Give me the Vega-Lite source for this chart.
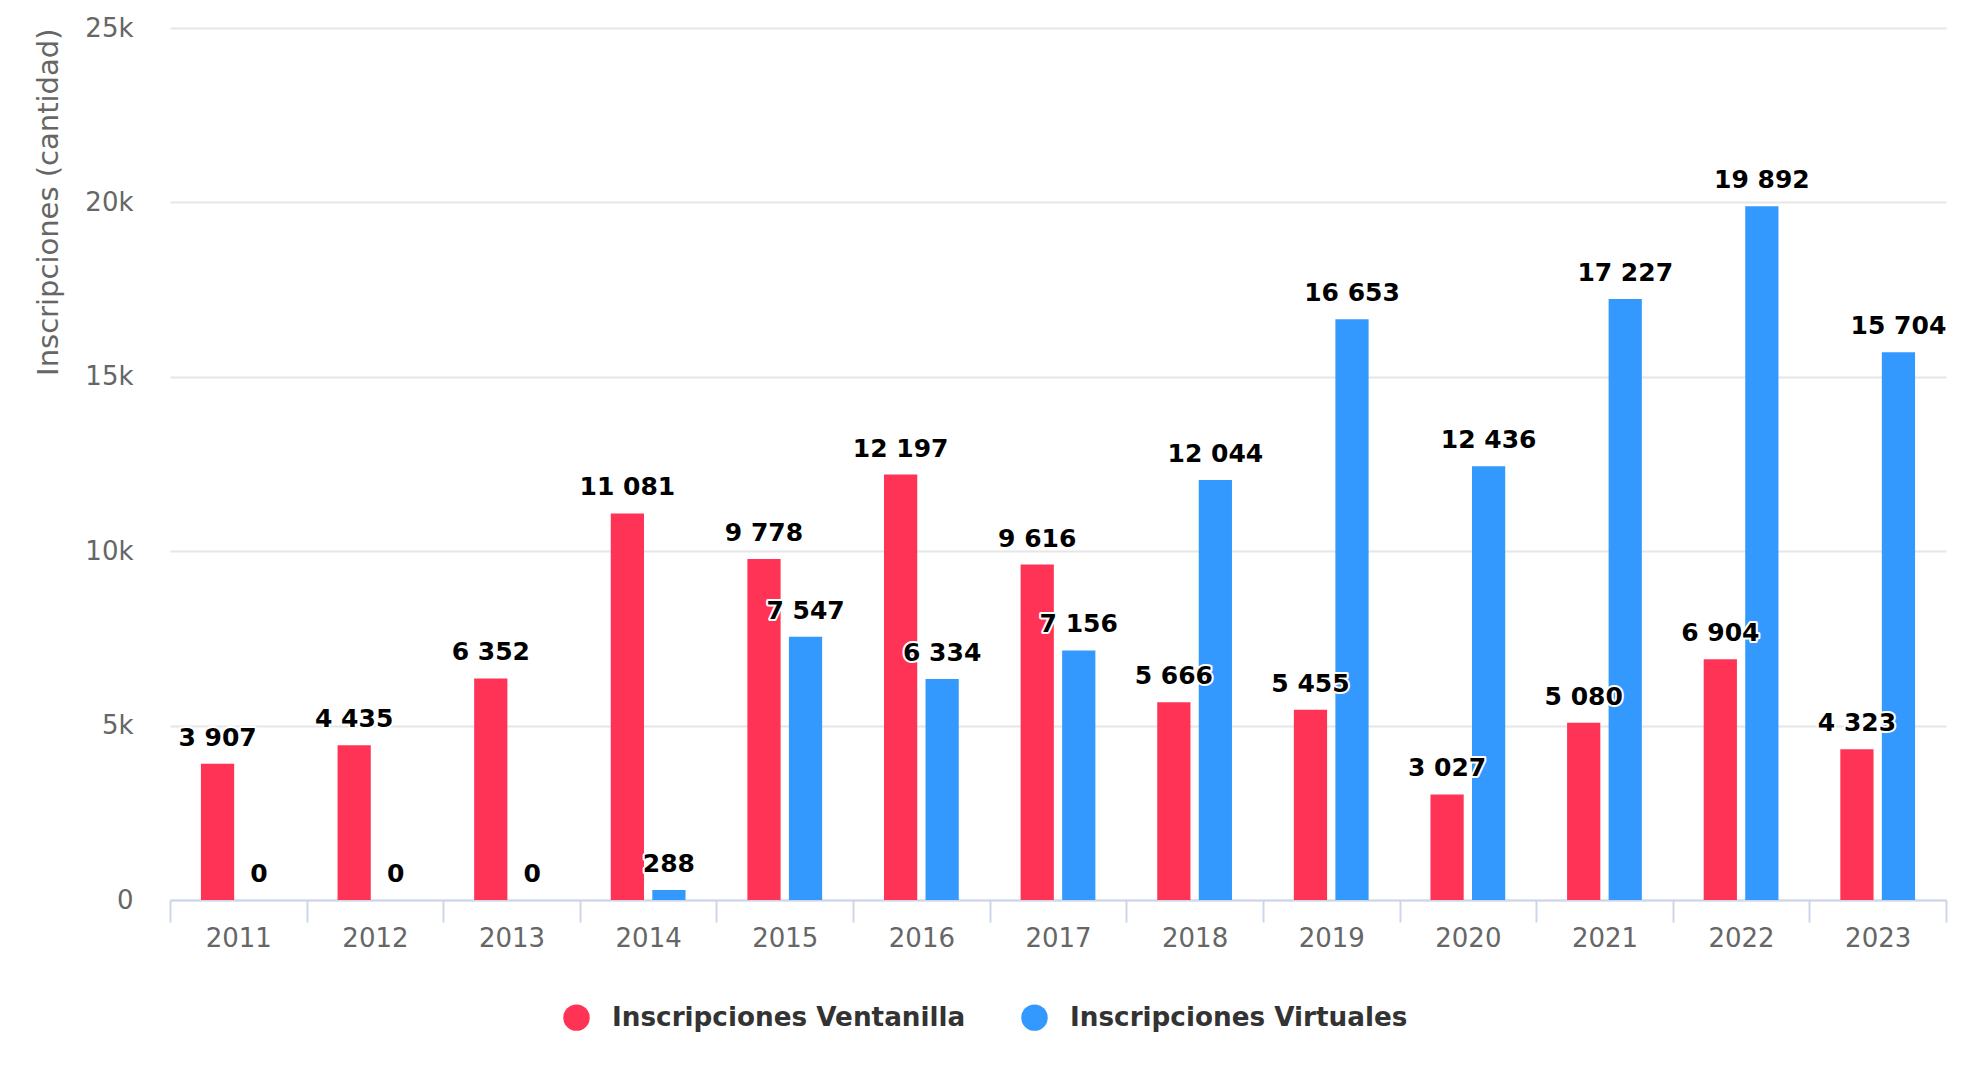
{
  "$schema": "https://vega.github.io/schema/vega-lite/v6.json",
  "width": 1776,
  "height": 872,
  "autosize": {"type": "none"},
  "padding": {"left": 170, "top": 28, "right": 31, "bottom": 186},
  "background": "white",
  "config": {
    "view": {"stroke": null},
    "font": "DejaVu Sans"
  },
  "data": {
    "values": [
      {"year": "2011", "serie": "Inscripciones Ventanilla", "value": 3907},
      {"year": "2012", "serie": "Inscripciones Ventanilla", "value": 4435},
      {"year": "2013", "serie": "Inscripciones Ventanilla", "value": 6352},
      {"year": "2014", "serie": "Inscripciones Ventanilla", "value": 11081},
      {"year": "2015", "serie": "Inscripciones Ventanilla", "value": 9778},
      {"year": "2016", "serie": "Inscripciones Ventanilla", "value": 12197},
      {"year": "2017", "serie": "Inscripciones Ventanilla", "value": 9616},
      {"year": "2018", "serie": "Inscripciones Ventanilla", "value": 5666},
      {"year": "2019", "serie": "Inscripciones Ventanilla", "value": 5455},
      {"year": "2020", "serie": "Inscripciones Ventanilla", "value": 3027},
      {"year": "2021", "serie": "Inscripciones Ventanilla", "value": 5080},
      {"year": "2022", "serie": "Inscripciones Ventanilla", "value": 6904},
      {"year": "2023", "serie": "Inscripciones Ventanilla", "value": 4323},
      {"year": "2011", "serie": "Inscripciones Virtuales", "value": 0},
      {"year": "2012", "serie": "Inscripciones Virtuales", "value": 0},
      {"year": "2013", "serie": "Inscripciones Virtuales", "value": 0},
      {"year": "2014", "serie": "Inscripciones Virtuales", "value": 288},
      {"year": "2015", "serie": "Inscripciones Virtuales", "value": 7547},
      {"year": "2016", "serie": "Inscripciones Virtuales", "value": 6334},
      {"year": "2017", "serie": "Inscripciones Virtuales", "value": 7156},
      {"year": "2018", "serie": "Inscripciones Virtuales", "value": 12044},
      {"year": "2019", "serie": "Inscripciones Virtuales", "value": 16653},
      {"year": "2020", "serie": "Inscripciones Virtuales", "value": 12436},
      {"year": "2021", "serie": "Inscripciones Virtuales", "value": 17227},
      {"year": "2022", "serie": "Inscripciones Virtuales", "value": 19892},
      {"year": "2023", "serie": "Inscripciones Virtuales", "value": 15704}
    ]
  },
  "transform": [
    {"calculate": "replace(format(datum.value, ','), ',', ' ')", "as": "lbl"}
  ],
  "encoding": {
    "x": {
      "field": "year",
      "type": "ordinal",
      "scale": {"paddingInner": 0, "paddingOuter": 0},
      "axis": {
        "title": null,
        "labelAngle": 0,
        "labelFont": "DejaVu Sans",
        "labelFontSize": 26,
        "labelColor": "#666666",
        "labelPadding": 3,
        "domainColor": "#ccd6eb",
        "domainWidth": 2,
        "tickColor": "#ccd6eb",
        "tickWidth": 2,
        "tickSize": 22,
        "tickBand": "extent",
        "grid": false
      }
    },
    "xOffset": {
      "field": "serie",
      "type": "nominal",
      "scale": {"paddingInner": 0.2, "paddingOuter": 0.745}
    },
    "y": {
      "field": "value",
      "type": "quantitative",
      "scale": {"domain": [0, 25000], "nice": false},
      "axis": {
        "title": "Inscripciones (cantidad)",
        "titleFont": "DejaVu Sans",
        "titleFontSize": 29,
        "titleFontWeight": "normal",
        "titleColor": "#666666",
        "titleAnchor": "end",
        "titlePadding": 21,
        "values": [0, 5000, 10000, 15000, 20000, 25000],
        "labelExpr": "datum.value == 0 ? '0' : (datum.value / 1000) + 'k'",
        "labelFont": "DejaVu Sans",
        "labelFontSize": 26,
        "labelColor": "#666666",
        "labelPadding": 37,
        "domain": false,
        "ticks": false,
        "gridColor": "#e6e6e6",
        "gridWidth": 2
      }
    }
  },
  "layer": [
    {
      "mark": {"type": "bar"},
      "encoding": {
        "color": {
          "field": "serie",
          "type": "nominal",
          "scale": {
            "domain": ["Inscripciones Ventanilla", "Inscripciones Virtuales"],
            "range": ["#ff3355", "#3399ff"]
          },
          "legend": {
            "title": null,
            "orient": "none",
            "direction": "horizontal",
            "legendX": 393,
            "legendY": 976,
            "symbolType": "circle",
            "symbolSize": 700,
            "symbolStrokeWidth": 0,
            "labelFont": "DejaVu Sans",
            "labelFontSize": 26.25,
            "labelFontWeight": "bold",
            "labelColor": "#333333",
            "labelOffset": 22,
            "columnPadding": 55,
            "labelLimit": 600
          }
        }
      }
    },
    {
      "mark": {
        "type": "text",
        "baseline": "alphabetic",
        "align": "center",
        "dy": -18,
        "font": "DejaVu Sans",
        "fontSize": 25,
        "fontWeight": "bold",
        "stroke": "white",
        "strokeWidth": 4,
        "strokeJoin": "round",
        "fill": "white"
      },
      "encoding": {"text": {"field": "lbl"}}
    },
    {
      "mark": {
        "type": "text",
        "baseline": "alphabetic",
        "align": "center",
        "dy": -18,
        "font": "DejaVu Sans",
        "fontSize": 25,
        "fontWeight": "bold",
        "fill": "#000000"
      },
      "encoding": {"text": {"field": "lbl"}}
    }
  ]
}
